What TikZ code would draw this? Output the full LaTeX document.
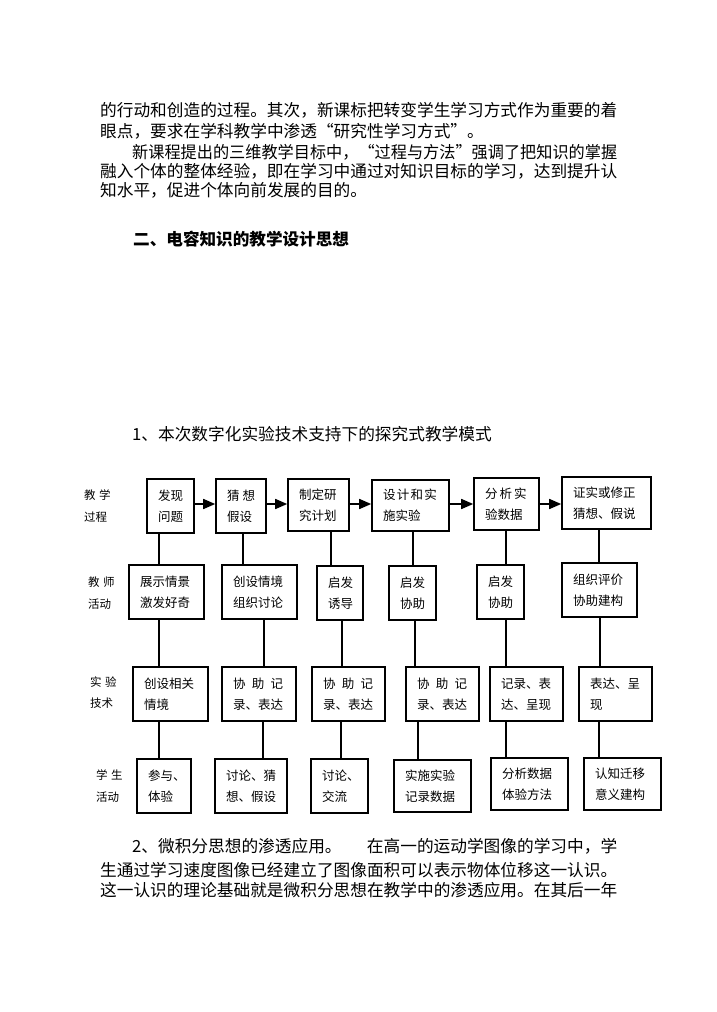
\documentclass[tikz,border=0pt]{standalone}
\usepackage{fontspec}
\newfontfamily\cjk{Noto Sans CJK SC}
\usetikzlibrary{arrows.meta}
\newcommand\spreadto[2]{\resizebox{#1}{\height}{#2}}
\newcommand\fullline[1]{\spreadto{517pt}{#1}}

\begin{document}
\begin{tikzpicture}[x=1pt, y=-1pt,
    every node/.style={font=\cjk, text=black, inner sep=0pt},
    body/.style={anchor=base west, font=\cjk\fontsize{16.68}{20}\selectfont},
    head/.style={body, font=\cjk\bfseries\fontsize{16.6}{20}\selectfont},
    lbl/.style={anchor=west, align=left, font=\cjk\fontsize{11.5}{21.5}\selectfont},
    box/.style={draw, line width=1.6pt, inner xsep=11pt, inner ysep=3pt,
                align=left, font=\cjk\fontsize{12.5}{21}\selectfont},
    link/.style={line width=1.6pt},
    arr/.style={-{Triangle[length=12pt, width=10pt]}, line width=1.6pt},
]
\fill[white] (0,0) rectangle (717,1012);
\useasboundingbox (0,0) rectangle (717,1012);

% ================================================== text above
\node[body] (b1) at (100,116.3) {\fullline{的行动和创造的过程。其次，新课标把转变学生学习方式作为重要的着}};
\node[body] (b2) at (100,137.3) {眼点，要求在学科教学中渗透“研究性学习方式”。};
\node[body] (b3) at (132,158.3) {\spreadto{485pt}{新课程提出的三维教学目标中，“过程与方法”强调了把知识的掌握}};
\node[body] (b4) at (100,177.3) {\fullline{融入个体的整体经验，即在学习中通过对知识目标的学习，达到提升认}};
\node[body] (b5) at (100,196.3) {知水平，促进个体向前发展的目的。};
\node[head] (h1) at (133,245.3) {二、电容知识的教学设计思想};
\node[body] (h2) at (132,440.3) {1、本次数字化实验技术支持下的探究式教学模式};

% ================================================== row labels
\node[lbl] (l1) at (84,506) {教\kern.3em学\\过程};
\node[lbl] (l2) at (88,593) {教\kern.3em师\\活动};
\node[lbl] (l3) at (90,692.5) {实\kern.3em验\\技术};
\node[lbl] (l4) at (96,786) {学\kern.3em生\\活动};

% ================================================== teaching process
\node[box, text width=25pt, minimum height=54pt] (p1) at (170.5,506) {发现\\问题};
\node[box, text width=28pt, minimum height=54pt] (p2) at (241,506) {猜\kern.25em想\\假设};
\node[box, text width=39pt, minimum height=52pt] (p3) at (318.5,505) {制定研\\究计划};
\node[box, text width=55pt, minimum height=51pt] (p4) at (410.5,505.5) {设\kern.1em计\kern.1em和\kern.1em实\\施实验};
\node[box, text width=43pt, minimum height=52pt] (p5) at (506.5,504) {分\kern.17em析\kern.17em实\\验数据};
\node[box, text width=67pt, minimum height=52pt] (p6) at (606.5,503) {证实或修正\\猜想、假说};

\foreach \a/\b in {p1/p2, p2/p3, p3/p4, p4/p5, p5/p6}
  \draw[arr] (\a.east |- 0,504) -- (\b.west |- 0,504);

% ================================================== teacher activity
\node[box, text width=53pt, minimum height=54pt] (t1) at (166.5,592) {展示情景\\激发好奇};
\node[box, text width=53pt, minimum height=54pt] (t2) at (259.5,592) {创设情境\\组织讨论};
\node[box, text width=24pt, minimum height=54pt] (t3) at (340,593) {启发\\诱导};
\node[box, text width=25pt, minimum height=54pt] (t4) at (412.5,593) {启发\\协助};
\node[box, text width=25pt, minimum height=54pt] (t5) at (500.5,592) {启发\\协助};
\node[box, text width=53pt, minimum height=54pt] (t6) at (599.5,590) {组织评价\\协助建构};

% ================================================== experiment technology
\node[box, text width=53pt, minimum height=54pt] (e1) at (170.5,694) {创设相关\\情境};
\node[box, text width=52pt, minimum height=54pt] (e2) at (259,694) {协\kern.5em助\kern.5em记\\录、表达};
\node[box, text width=51pt, minimum height=54pt] (e3) at (348.5,694) {协\kern.5em助\kern.5em记\\录、表达};
\node[box, text width=51pt, minimum height=54pt] (e4) at (442.5,694) {协\kern.5em助\kern.5em记\\录、表达};
\node[box, text width=51pt, minimum height=54pt] (e5) at (526.5,694) {记录、表\\达、呈现};
\node[box, text width=51pt, minimum height=54pt] (e6) at (615.5,694) {表达、呈\\现};

% ================================================== student activity
\node[box, text width=32pt, minimum height=54pt] (s1) at (164,786) {参与、\\体验};
\node[box, text width=50pt, minimum height=54pt] (s2) at (251,786) {讨论、猜\\想、假设};
\node[box, text width=35pt, minimum height=54pt] (s3) at (339.5,786) {讨论、\\交流};
\node[box, text width=55pt, minimum height=52pt] (s4) at (432.5,786) {实施实验\\记录数据};
\node[box, text width=55pt, minimum height=52pt] (s5) at (529.5,784) {分析数据\\体验方法};
\node[box, text width=55pt, minimum height=52pt] (s6) at (622.5,784) {认知迁移\\意义建构};

% the vertical links between rows
\foreach \a/\b/\x in {p1/t1/159, p2/t2/243, p3/t3/331, p4/t4/413, p5/t5/506, p6/t6/599,
                      t1/e1/159, t2/e2/264, t3/e3/342, t4/e4/415, t5/e5/506, t6/e6/600,
                      e1/s1/159, e2/s2/263, e3/s3/341, e4/s4/418, e5/s5/506, e6/s6/599}
  \draw[link] (\a.south -| \x,0) -- (\b.north -| \x,0);

% ================================================== text below
\node[body] (c1) at (132,852.3) {\makebox[485pt][l]{2、微积分思想的渗透应用。\hfill 在高一的运动学图像的学习中，学}};
\node[body] (c2) at (100,876.3) {\fullline{生通过学习速度图像已经建立了图像面积可以表示物体位移这一认识。}};
\node[body] (c3) at (100,896.3) {\fullline{这一认识的理论基础就是微积分思想在教学中的渗透应用。在其后一年}};

\end{tikzpicture}
\end{document}
